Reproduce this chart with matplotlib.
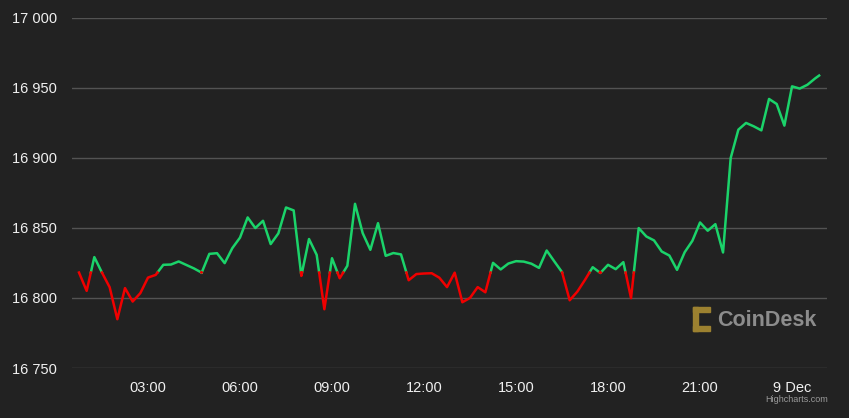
import numpy as np
import pandas as pd
import matplotlib
matplotlib.use("Agg")
import matplotlib.pyplot as plt
import matplotlib.dates as mdates
from matplotlib.patches import Rectangle

# BTC price, 15 minute steps from 8 Dec 00:45, plus the last live quote
prices = [
    16818.1, 16805.0, 16829.1, 16818.0, 16807.6, 16784.8, 16807.0, 16797.4,
    16803.4, 16814.5, 16816.4, 16823.6, 16823.8, 16826.0, 16823.5, 16821.0,
    16818.0, 16831.4, 16831.9, 16824.8, 16835.5, 16843.0, 16857.4, 16849.8,
    16855.0, 16838.4, 16846.0, 16864.5, 16862.4, 16815.7, 16842.0, 16830.7,
    16791.9, 16828.3, 16814.0, 16822.9, 16867.1, 16846.2, 16834.3, 16853.3,
    16830.0, 16832.0, 16831.0, 16812.6, 16817.0, 16817.4, 16817.6, 16814.4,
    16807.7, 16818.0, 16796.9, 16800.0, 16807.7, 16804.0, 16825.0, 16820.3,
    16824.5, 16826.2, 16825.9, 16824.4, 16821.4, 16833.8, 16826.0, 16818.4,
    16798.3, 16804.5, 16812.9, 16821.9, 16817.8, 16823.6, 16820.5, 16825.5,
    16799.8, 16849.8, 16843.8, 16841.0, 16833.1, 16830.2, 16820.0, 16832.6,
    16840.7, 16853.8, 16847.9, 16852.6, 16832.4, 16899.8, 16920.0, 16924.8,
    16922.4, 16919.5, 16941.9, 16938.3, 16922.9, 16950.9, 16949.3, 16952.0,
    16956.5, 16958.6,
]
times = list(pd.date_range("2022-12-08 00:45", periods=len(prices) - 1, freq="15min"))
times.append(pd.Timestamp("2022-12-09 00:53"))

y_ticks = [16750, 16800, 16850, 16900, 16950, 17000]
x_ticks = ["2022-12-08 03:00", "2022-12-08 06:00", "2022-12-08 09:00", "2022-12-08 12:00",
           "2022-12-08 15:00", "2022-12-08 18:00", "2022-12-08 21:00", "2022-12-09 00:00"]
x_labels = ["03:00", "06:00", "09:00", "12:00", "15:00", "18:00", "21:00", "9 Dec"]

bg = "#222222"
green = "#1bd36a"
red = "#f00000"
grid_col = "#535353"
text_col = "#f0f0f0"

plt.rcParams["font.family"] = ["Liberation Sans", "DejaVu Sans"]

# split segments where the price crosses the opening level
x = mdates.date2num(times)
y = np.array(prices)
thr = y[0]
xs, ys = [x[0]], [y[0]]
for i in range(1, len(y)):
    a, b = y[i - 1] - thr, y[i] - thr
    if a * b < 0:
        t = a / (a - b)
        xs.append(x[i - 1] + t * (x[i] - x[i - 1]))
        ys.append(thr)
    xs.append(x[i])
    ys.append(y[i])
xs = np.array(xs)
ys = np.array(ys)
up = np.where(ys >= thr, ys, np.nan)
down = np.where(ys <= thr, ys, np.nan)

fig = plt.figure(figsize=(8.49, 4.18), dpi=100, facecolor=bg)
ax = fig.add_axes([72 / 849, 1 - 368 / 418, 755 / 849, 350.5 / 418], facecolor=bg)

for v in y_ticks:
    ax.axhline(v, color=grid_col, lw=1, zorder=1)

ax.plot(xs, up, color=green, lw=1.8, solid_joinstyle="round", zorder=3)
ax.plot(xs, down, color=red, lw=1.8, solid_joinstyle="round", zorder=3)

ax.set_ylim(16750, 17000)
x0 = mdates.date2num(pd.Timestamp("2022-12-08 00:00"))
ax.set_xlim(x0 + 0.522 / 24, x0 + 25.14 / 24)

ax.set_yticks(y_ticks)
ax.set_yticklabels([f"{v:,}".replace(",", " ") for v in y_ticks])
ax.set_xticks(mdates.date2num(pd.to_datetime(x_ticks)))
ax.set_xticklabels(x_labels)
ax.tick_params(axis="both", length=0, colors=text_col, labelsize=10.5)
ax.tick_params(axis="y", pad=11)
ax.tick_params(axis="x", pad=9)
for s in ax.spines.values():
    s.set_visible(False)

# CoinDesk watermark
gold = "#9c8130"
for rx, ry, rw, rh in [(693, 307, 5, 24), (693, 307, 17, 5), (693, 326, 17, 5)]:
    fig.patches.append(Rectangle((rx / 849, 1 - (ry + rh) / 418), rw / 849, rh / 418,
                                 transform=fig.transFigure, color=gold, zorder=2))
fig.text(717 / 849, 1 - 320 / 418, "CoinDesk", color="#8c8c8c", fontsize=15.5,
         fontweight="bold", va="center", ha="left")
fig.text(828 / 849, 1 - 399 / 418, "Highcharts.com", color="#9a9a9a", fontsize=6.5,
         va="center", ha="right")

fig.savefig("out.png", dpi=100, facecolor=bg)
